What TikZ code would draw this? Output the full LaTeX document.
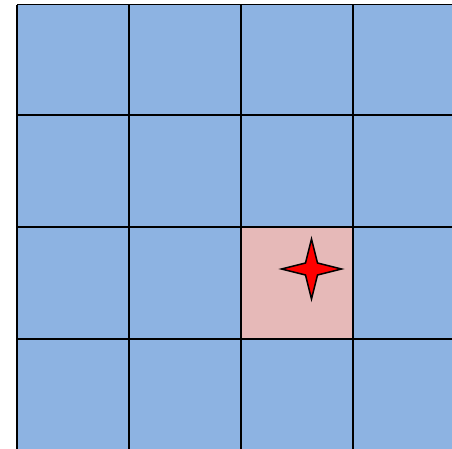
\documentclass[tikz,border=0pt]{standalone}
\usetikzlibrary{calc}
\definecolor{cellblue}{RGB}{141,179,226}
\definecolor{cellpink}{RGB}{230,185,184}

\begin{document}
\begin{tikzpicture}[x=1pt, y=-1pt,
  gridline/.style={draw=black, line width=1.6pt},
  marker/.style={fill=red, draw=black, line width=1.5pt, line join=miter}]
  \useasboundingbox (0,0) rectangle (452,448);
  \clip (0,0) rectangle (452,448);
  % board
  \fill[cellblue] (17,4.5) rectangle (460,460);
  \fill[cellpink] (241,227) rectangle (353,339);
  \foreach \x in {17,129,241,353}
    \draw[gridline] (\x,4.5) -- (\x,460);
  \foreach \y in {4.5,115,227,339}
    \draw[gridline] (17,\y) -- (460,\y);
  % star in the goal cell
  \coordinate (goal) at (311.5,269);
  \draw[marker] ($(goal)+(0,-30)$) -- ($(goal)+(6,-6)$) -- ($(goal)+(30,0)$)
    -- ($(goal)+(6,6)$) -- ($(goal)+(0,30)$) -- ($(goal)+(-6,6)$)
    -- ($(goal)+(-30,0)$) -- ($(goal)+(-6,-6)$) -- cycle;
\end{tikzpicture}
\end{document}
